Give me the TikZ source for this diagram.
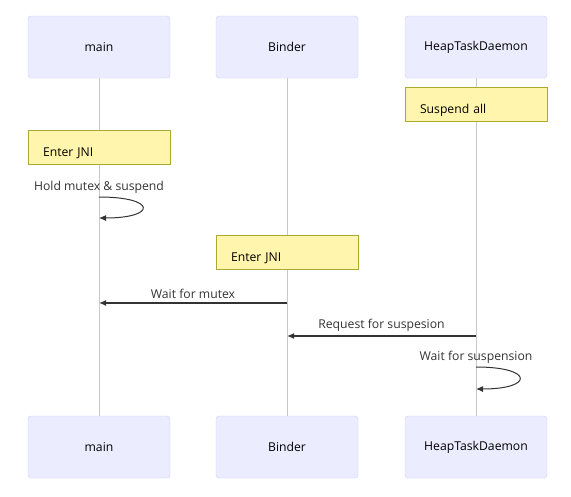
\documentclass[tikz,border=0pt]{standalone}
\usepackage{fontspec}
\setmainfont{Open Sans}
\usetikzlibrary{calc,positioning,arrows.meta}
\definecolor{actorfill}{HTML}{ECECFF}
\definecolor{actorline}{HTML}{CCCCFF}
\definecolor{notefill}{HTML}{FFF5AD}
\definecolor{noteline}{HTML}{AAAA33}
\definecolor{lifeline}{HTML}{C8C8C8}
\definecolor{msgline}{HTML}{333333}
\tikzset{
    actor/.style={rectangle, draw=actorline, fill=actorfill, rounded corners=3pt, minimum width=142pt, minimum height=62pt, inner sep=0pt, font=\fontsize{12.2}{14}\selectfont, text=black},
    note/.style={rectangle, draw=noteline, fill=notefill, minimum width=142pt, inner xsep=15pt, inner ysep=4pt, text height=22pt, text depth=4pt, text width=112pt, align=left, font=\fontsize{12.2}{14}\selectfont},
    life/.style={draw=lifeline, line width=0.8pt},
    msg/.style={draw=msgline, line width=1.3pt, -{Latex[length=7pt,width=6pt]}},
    msglabel/.style={font=\fontsize{12.2}{14}\selectfont, text=msgline, inner sep=1pt}
}
\begin{document}
\begin{tikzpicture}[x=1pt,y=-1pt]
	\useasboundingbox (0,0) rectangle (571,496);
	% actors, top and bottom
	\node[actor] (mainT) at (99,47) {main};
	\node[actor] (binderT) at (287,47) {Binder};
	\node[actor] (heapT) at (476,47) {HeapTaskDaemon};
	\node[actor] (mainB) at (99,447) {main};
	\node[actor] (binderB) at (287,447) {Binder};
	\node[actor] (heapB) at (476,447) {HeapTaskDaemon};

	\draw[life] (mainT) -- (mainB);
	\draw[life] (binderT) -- (binderB);
	\draw[life] (heapT) -- (heapB);

	% notes
	\node[note] (suspend) at (476,104) {Suspend all};
	\node[note] (jniMain) at (99,147) {Enter JNI};
	\node[note] (jniBinder) at (287,252.5) {Enter JNI};

	% self loop on main
	\coordinate (holdA) at (99,197);
	\coordinate (holdB) at (99,218);
	\draw[msg, line width=1pt] (holdA) .. controls (157,197) and (157,218) .. (holdB)
		node[msglabel, pos=0, above=2pt] {Hold mutex \& suspend};

	% messages
	\coordinate (mutexA) at (287,303);
	\coordinate (mutexB) at (99,303);
	\draw[msg] (mutexA) -- node[msglabel, above=3pt] {Wait for mutex} (mutexB);
	\coordinate (reqA) at (476,336);
	\coordinate (reqB) at (287,336);
	\draw[msg] (reqA) -- node[msglabel, above=3pt] {Request for suspesion} (reqB);

	% self loop on HeapTaskDaemon
	\coordinate (waitA) at (476,367);
	\coordinate (waitB) at (476,389);
	\draw[msg, line width=1pt] (waitA) .. controls (534,367) and (534,389) .. (waitB)
		node[msglabel, pos=0, above=2pt] {Wait for suspension};
\end{tikzpicture}
\end{document}
